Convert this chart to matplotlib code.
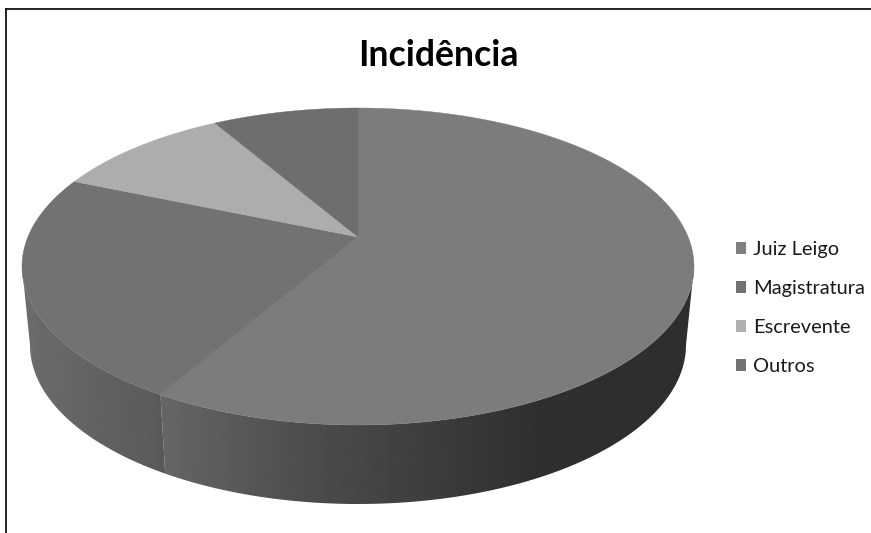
import numpy as np
import matplotlib
matplotlib.use("Agg")
import matplotlib.pyplot as plt
from matplotlib.patches import Polygon, Patch
from matplotlib.lines import Line2D

categories = ["Juiz Leigo", "Magistratura", "Escrevente", "Outros"]
values = [60, 24, 9, 7]
title = "Incidência"
top_colors = ["#7c7c7c", "#727272", "#adadad", "#6e6e6e"]
legend_colors = ["#808080", "#727272", "#b0b0b0", "#727272"]

W, H = 871, 533
APEX = (358, 237)
TOP = dict(cx=358, cy=266.5, a=336, b=158.5)
BOT = dict(cx=358, cy=345, a=328, b=159)

plt.rcParams["font.family"] = ["Lato", "DejaVu Sans"]
fig = plt.figure(figsize=(W / 100, H / 100), dpi=100, facecolor="white")
ax = fig.add_axes([0, 0, 1, 1])
ax.axis("off")


def arc(e, t0, t1, n=200):
    t = np.radians(np.linspace(t0, t1, n))
    return np.column_stack([e["cx"] + e["a"] * np.sin(t), e["cy"] - e["b"] * np.cos(t)])


total = sum(values)
edges = np.concatenate([[0], np.cumsum(values) / total * 360])


def wall(t0, t1, xs, grays, z):
    poly = np.vstack([arc(TOP, t0, t1), arc(BOT, t1, t0)])
    g = np.interp(np.linspace(0, W, W + 1), xs, grays)[None, :]
    im = ax.imshow(g, extent=(0, W, H, 0), cmap="gray", vmin=0, vmax=255,
                   aspect="auto", interpolation="bilinear", zorder=z)
    patch = Polygon(poly, closed=True, transform=ax.transData, fc="none", ec="none")
    ax.add_patch(patch)
    im.set_clip_path(patch)


# side walls: only the two front slices show
wall(90, edges[1], [160, 300, 540, 871], [0x66, 0x4e, 0x2f, 0x2e], 1)
wall(edges[1], 270, [0, 24, 160, 871], [0x6c, 0x6c, 0x5a, 0x5a], 2)

# top face
for i, col in enumerate(top_colors):
    pts = np.vstack([[APEX], arc(TOP, edges[i], edges[i + 1])])
    ax.add_patch(Polygon(pts, closed=True, fc=col, ec=col, lw=0.3, zorder=3))

ax.set_xlim(0, W)
ax.set_ylim(H, 0)

# frame: left and top only, running off the image
ax.add_line(Line2D([5.5, 5.5], [H, 9], color="#111111", lw=1.3, zorder=5))
ax.add_line(Line2D([5.5, W], [9, 9], color="#111111", lw=1.3, zorder=5))

ax.text(438, 55, title, fontsize=25.7, fontweight="bold", ha="center", va="center",
        color="#000000", zorder=6)

handles = [Patch(fc=c, ec=c, lw=0) for c in legend_colors]
leg = ax.legend(handles, categories, loc="center left",
                bbox_to_anchor=(718 / W, 1 - 308 / H), frameon=False, fontsize=14.4,
                labelspacing=1.1, handlelength=0.5, handleheight=0.5,
                handletextpad=0.35, borderpad=0.4, labelcolor="#1a1a1a")
fig.savefig("out.png", dpi=100, facecolor="white")
